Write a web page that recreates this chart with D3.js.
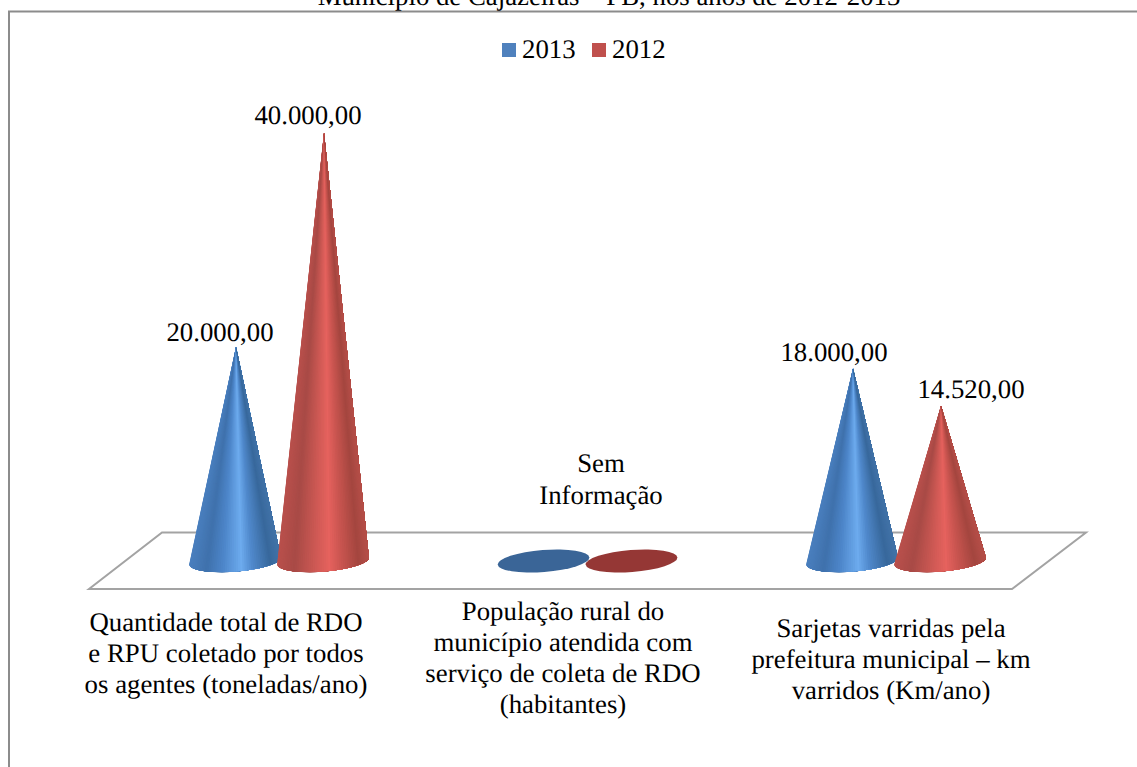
<!DOCTYPE html>
<html><head><meta charset="utf-8">
<script src="https://cdn.jsdelivr.net/npm/d3@7"></script>
<style>html,body{margin:0;padding:0;background:#fff;overflow:hidden}svg{display:block}text{font-family:"Liberation Serif",serif;fill:#000;text-rendering:geometricPrecision}</style>
</head><body><svg id="c" width="1137" height="767"></svg>
<script>
const titleText = "Município de Cajazeiras – PB, nos anos de 2012-2013";
const categories = ["rdo","rural","sarjetas"];
const categoryLines = [
  ["Quantidade total de RDO","e RPU coletado por todos","os agentes (toneladas/ano)"],
  ["População rural do","município atendida com","serviço de coleta de RDO","(habitantes)"],
  ["Sarjetas varridas pela","prefeitura municipal – km","varridos (Km/ano)"]
];
const seriesNames = ["2013","2012"];
const values2013 = [20000,0,18000];
const values2012 = [40000,0,14520];
const labels2013 = ["20.000,00",null,"18.000,00"];
const labels2012 = ["40.000,00",null,"14.520,00"];
const noInfoLines = ["Sem","Informação"];

const FS = 26.8;
const svg = d3.select("#c");
const x = d3.scalePoint().domain(categories).range([279,896]);
const s = d3.scalePoint().domain(seriesNames).range([-44,44]);
const y = d3.scaleLinear().domain([0,40000]).range([561,133]);
const shadePos = [0,.18,.36,.56,.68,.88,1];
const styles = {
  "2013":{solid:"#4f81bd",flat:"#3a6597",shade:["#4a7fbe","#3f71ac","#4d86ca","#6dabee","#5089cc","#38689c","#4273a8"],dx:[-15,0,-18],dy:[-6,0,-7]},
  "2012":{solid:"#c0504d",flat:"#953735",shade:["#b9504c","#a84a46","#c65651","#e6625e","#cc5651","#a4463f","#b64f49"],dx:[-15,0,31],dy:[-9,0,-8]}
};
// chart frame
svg.append("path").attr("d","M9,767V11.5H1137").attr("fill","none").attr("stroke","#8c8c8c").attr("stroke-width",2);
// title
svg.append("text").attr("x",609).attr("y",5).attr("text-anchor","middle").attr("font-size",FS).text(titleText);
// floor
svg.append("path").attr("d",d3.line()([[89,589],[162,532.5],[1086,532.5],[1012,589]])+"Z").attr("fill","#fff").attr("stroke","#a3a3a3").attr("stroke-width",2);
// legend
[[502,"2013"],[592,"2012"]].forEach(([lx,n])=>{
  svg.append("rect").attr("x",lx).attr("y",43).attr("width",14).attr("height",14).attr("fill",styles[n].solid);
  svg.append("text").attr("x",lx+20).attr("y",58).attr("font-size",FS).text(n);
});
// cones: overlapping fans painted left to right, so shading converges on the apex without seams
const rx=46, ry=10.5, tiltDeg=-4.5, tilt=tiltDeg*Math.PI/180, N=64;
const basePt=(cx,cy,t)=>{
  const px=rx*Math.cos(t), py=ry*Math.sin(t);
  return [cx+px*Math.cos(tilt)-py*Math.sin(tilt), cy+px*Math.sin(tilt)+py*Math.cos(tilt)];
};
seriesNames.forEach((n,si)=>{
  const vals = si===0?values2013:values2012;
  const shade = d3.scaleLinear().domain(shadePos).range(styles[n].shade).interpolate(d3.interpolateRgb);
  categories.forEach((c,i)=>{
    const cx=x(c)+s(n), v=vals[i];
    if(v>0){
      const apex=[cx+1,y(v)];
      const right=basePt(cx,y(0),0);
      svg.append("g").selectAll("path").data(d3.range(N)).join("path")
        .attr("d",k=>{
          const a=Math.PI*(1-k/N);
          const p=basePt(cx,y(0),a);
          return `M${apex}L${p}A${rx},${ry} ${tiltDeg} 0 0 ${right}Z`;
        })
        .attr("fill",k=>{
          const a=Math.PI*(1-(k+.5)/N);
          return shade((1+Math.cos(a))/2);
        });
    } else {
      svg.append("ellipse").attr("rx",rx).attr("ry",ry+.5).attr("transform",`translate(${cx},${y(0)}) rotate(${tiltDeg})`).attr("fill",styles[n].flat);
    }
  });
});
// value labels
seriesNames.forEach((n,si)=>{
  const vals = si===0?values2013:values2012, labs = si===0?labels2013:labels2012;
  categories.forEach((c,i)=>{
    if(labs[i]) svg.append("text").attr("x",x(c)+s(n)+styles[n].dx[i]).attr("y",y(vals[i])+styles[n].dy[i]).attr("text-anchor","middle").attr("font-size",FS).text(labs[i]);
  });
});
noInfoLines.forEach((t,i)=>svg.append("text").attr("x",601).attr("y",472+i*32).attr("text-anchor","middle").attr("font-size",FS).text(t));
// category labels
const catY=[631,620,637];
const catX=[226,563,891];
categoryLines.forEach((lines,i)=>lines.forEach((t,j)=>{
  svg.append("text").attr("x",catX[i]).attr("y",catY[i]+j*31).attr("text-anchor","middle").attr("font-size",FS).text(t);
}));
</script></body></html>
